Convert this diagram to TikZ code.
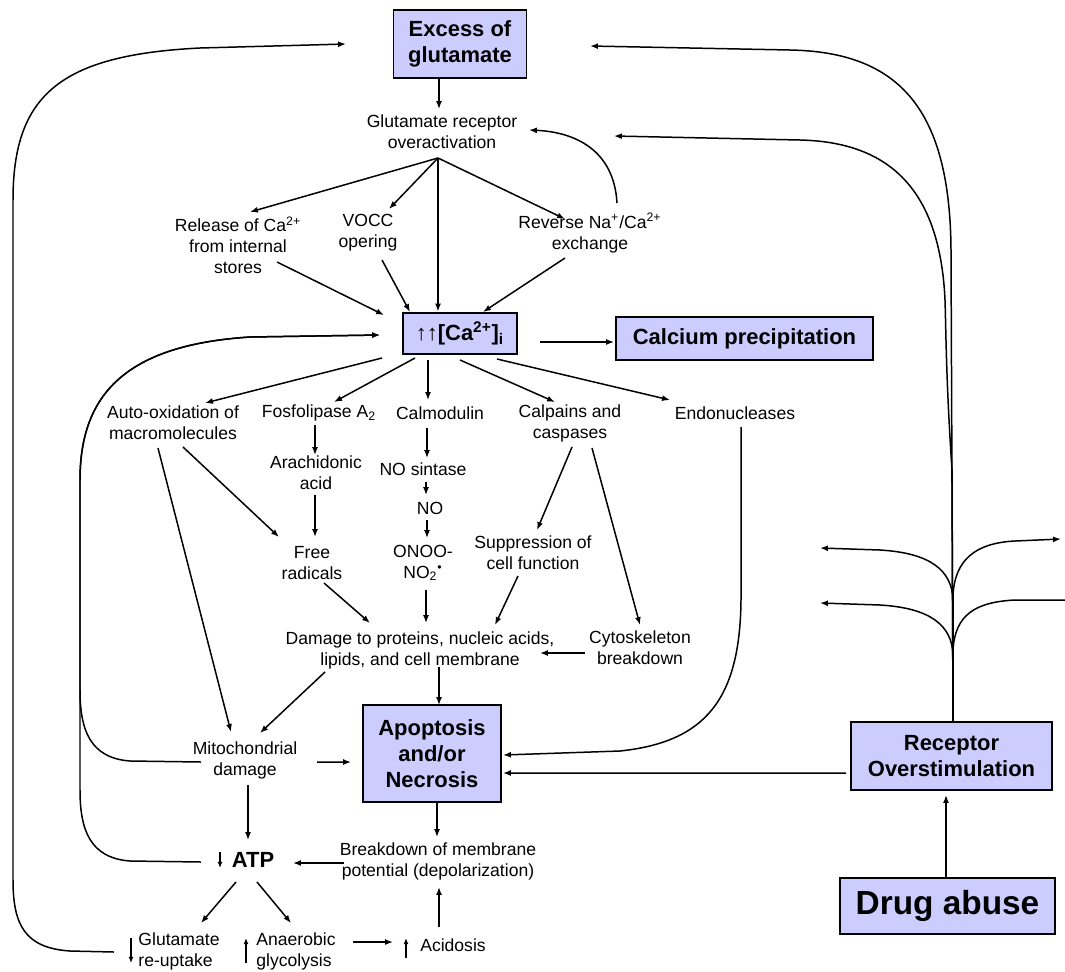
\documentclass[tikz,border=0pt]{standalone}
\usepackage{fontspec}
\setmainfont{Liberation Sans}
\usetikzlibrary{arrows.meta,calc}
\definecolor{boxfill}{HTML}{CCCCFF}
\tikzset{
  lbl/.style={font=\fontsize{10}{11.9}\selectfont, align=center, inner sep=0pt},
  lbll/.style={lbl, align=left},
  bx/.style={draw=black, line width=1.1pt, fill=boxfill, inner sep=0pt, align=center, font=\fontsize{12.5}{14.8}\selectfont\bfseries},
  conn/.style={line width=0.85pt, -{Latex[length=4.5pt,width=3.4pt]}},
  plainline/.style={line width=0.85pt},
  tick/.style={line width=0.8pt, -{Latex[length=3.5pt,width=2.8pt]}}
}
\begin{document}
\begin{tikzpicture}[x=0.02cm,y=-0.02cm]
\path[use as bounding box] (0,0) rectangle (1065,971);

% nodes
\node[bx, minimum width=2.66cm, minimum height=1.36cm] (exc) at (460,44) {Excess of\\glutamate};
\node[lbl] (gro) at (442,132) {Glutamate receptor\\overactivation};
\node[lbl] (rel) at (238,245) {Release of Ca\textsuperscript{2+}\\from internal\\stores};
\node[lbl] (vocc) at (368,233) {VOCC\\opering};
\node[lbl] (rev) at (590,233) {Reverse Na\textsuperscript{+}/Ca\textsuperscript{2+}\\exchange};
\node[bx, minimum width=2.28cm, minimum height=0.82cm] (ca) at (460,333.5) {↑↑[Ca\textsuperscript{2+}]\textsubscript{i}};
\node[bx, minimum width=5.14cm, minimum height=0.86cm] (calp) at (744.5,338.5) {Calcium precipitation};
\node[lbl] (auto) at (173,423) {Auto-oxidation of\\macromolecules};
\node[lbl] (fos) at (319,413) {Fosfolipase A\textsubscript{2}};
\node[lbl] (calm) at (440,413) {Calmodulin};
\node[lbl] (cal) at (570,423) {Calpains and\\caspases};
\node[lbl] (endo) at (735,413) {Endonucleases};
\node[lbl] (arach) at (316,473) {Arachidonic\\acid};
\node[lbl] (nos) at (423,469) {NO sintase};
\node[lbl] (no) at (430,508) {NO};
\node[lbl] (onoo) at (423,563) {ONOO-\\NO\textsubscript{2}\textsuperscript{•}};
\node[lbl] (free) at (312,563) {Free\\radicals};
\node[lbl] (supp) at (533,553) {Suppression of\\cell function};
\node[lbl] (dmg) at (420,650) {Damage to proteins, nucleic acids,\\lipids, and cell membrane};
\node[lbl] (cyto) at (640,648) {Cytoskeleton\\breakdown};
\node[lbl] (mito) at (245,760) {Mitochondrial\\damage};
\node[bx, minimum width=2.76cm, minimum height=1.94cm] (apo) at (432,753.5) {Apoptosis\\and/or\\Necrosis};
\node[lbl, font=\fontsize{12.5}{14}\selectfont\bfseries] (atp) at (253,860) {ATP};
\node[lbl] (brk) at (438,861) {Breakdown of membrane\\potential (depolarization)};
\node[lbll] (glu) at (179,951) {Glutamate\\re-uptake};
\node[lbll] (anae) at (296,951) {Anaerobic\\glycolysis};
\node[lbl] (acid) at (453,945) {Acidosis};
\node[bx, minimum width=4.02cm, minimum height=1.36cm] (rec) at (951.5,756) {Receptor\\Overstimulation};
\node[bx, minimum width=4.3cm, minimum height=1.12cm, font=\fontsize{19}{22}\selectfont\bfseries] (drug) at (947.5,906) {Drug abuse};

% free ends of the side branches
\coordinate (ul) at (820,548);
\coordinate (ll) at (820,603);
\coordinate (ur) at (1061,539);
\coordinate (lr) at (1065,600);

% small arrows inside labels
\draw[tick] ($(atp)+(-33,-8)$) -- ($(atp)+(-33,8)$);
\draw[tick] ($(glu)+(-48,-13)$) -- ($(glu)+(-48,12)$);
\draw[tick] ($(anae)+(-50,12)$) -- ($(anae)+(-50,-13)$);
\draw[tick] ($(acid)+(-47,13)$) -- ($(acid)+(-47,-7)$);

% connectors
\draw[conn] ($(exc)+(-21,34)$) -- ($(gro)+(-3,-23)$);
\draw[conn] ($(gro)+(-4,26)$) -- ($(rel)+(12,-33)$);
\draw[conn] ($(gro)+(-4,26)$) -- ($(vocc)+(21,-24)$);
\draw[conn] ($(gro)+(-4,26)$) -- ($(ca)+(-22,-22)$);
\draw[conn] ($(gro)+(-4,26)$) -- ($(rev)+(-25,-14)$);
\draw[conn] ($(rev)+(27,-30)$) .. controls (614,150) and (575,132) .. ($(gro)+(87,-2)$);
\draw[conn] ($(rel)+(39,17)$) -- ($(ca)+(-76,-18.5)$);
\draw[conn] ($(vocc)+(14,27)$) -- ($(ca)+(-50,-21.5)$);
\draw[conn] ($(rev)+(-25,25)$) -- ($(ca)+(23,-21.5)$);
\draw[conn] ($(ca)+(80,8.5)$) -- ($(calp)+(-130.5,3.5)$);
\draw[conn] ($(ca)+(-78,24.5)$) -- ($(auto)+(32,-20)$);
\draw[conn] ($(ca)+(-45,24.5)$) -- ($(fos)+(15,-11)$);
\draw[conn] ($(ca)+(-32,26.5)$) -- ($(calm)+(-12,-13)$);
\draw[conn] ($(ca)+(0,26.5)$) -- ($(cal)+(-15,-21)$);
\draw[conn] ($(ca)+(37,25.5)$) -- ($(endo)+(-65,-13)$);
\draw[conn] ($(fos)+(-4,12)$) -- ($(arach)+(-1,-18)$);
\draw[conn] ($(arach)+(-1,22)$) -- ($(free)+(3,-26)$);
\draw[conn] ($(calm)+(-13,15)$) -- ($(nos)+(4,-11)$);
\draw[conn] ($(nos)+(3,13)$) -- ($(no)+(-4,-13)$);
\draw[conn] ($(no)+(-3,12)$) -- ($(onoo)+(4,-25)$);
\draw[conn] ($(onoo)+(3,27)$) -- ($(dmg)+(6,-27)$);
\draw[conn] ($(auto)+(10,24)$) -- ($(free)+(-33,-26)$);
\draw[conn] ($(auto)+(-15,25)$) -- ($(mito)+(-14,-28)$);
\draw[conn] ($(free)+(12,20)$) -- ($(dmg)+(-50,-27)$);
\draw[conn] ($(cal)+(2,24)$) -- ($(supp)+(4,-23)$);
\draw[conn] ($(cal)+(22,25)$) -- ($(cyto)+(0,-23)$);
\draw[conn] ($(supp)+(-15,23)$) -- ($(dmg)+(75,-25)$);
\draw[conn] ($(cyto)+(-55,5)$) -- ($(dmg)+(120,3)$);
\draw[conn] ($(dmg)+(19,17)$) -- ($(apo)+(7,-48.5)$);
\draw[conn] ($(dmg)+(-95,22)$) -- ($(mito)+(15,-27)$);
\draw[conn] ($(endo)+(6,14)$) -- (741,600) .. controls (740,700) and (705,742) .. (620,751) -- ($(apo)+(71,1.5)$);
\draw[conn] ($(mito)+(72,2)$) -- ($(apo)+(-81,8.5)$);
\draw[conn] ($(mito)+(3,25)$) -- ($(atp)+(-5,-20)$);
\draw[conn] ($(apo)+(5,48.5)$) -- ($(brk)+(-1,-24)$);
\draw[conn] ($(brk)+(-94,2)$) -- ($(atp)+(40,3)$);
\draw[conn] ($(acid)+(-14,-18)$) -- ($(brk)+(1,26)$);
\draw[conn] ($(atp)+(-17,22)$) -- ($(glu)+(22,-28)$);
\draw[conn] ($(atp)+(4,22)$) -- ($(anae)+(-5,-28)$);
\draw[conn] ($(anae)+(57,-9)$) -- ($(acid)+(-60,-3)$);

% feedback loops on the left
\draw[conn] ($(mito)+(-44,2)$) -- (130,761) .. controls (90,758) and (80,730) .. (80,690) -- (80,480) .. controls (80,395) and (125,345) .. (250,337) -- ($(ca)+(-80,1.5)$);
\draw[conn] ($(atp)+(-52,2)$) -- (130,861) .. controls (90,858) and (80,830) .. (80,790) -- (80,480) .. controls (80,395) and (125,345) .. (250,337) -- ($(ca)+(-80,1.5)$);
\draw[conn] ($(glu)+(-65,1)$) -- (70,951) .. controls (25,948) and (13,925) .. (13,880) -- (13,200) .. controls (13,95) and (60,55) .. (200,48) -- ($(exc)+(-114,0)$);

% receptor overstimulation
\draw[conn] ($(drug)+(-1.5,-28)$) -- ($(rec)+(-5.5,39)$);
\draw[conn] ($(rec)+(-105.5,17)$) -- ($(apo)+(71,19.5)$);
\draw[conn] ($(rec)+(1.5,-34)$) -- (951,250) .. controls (950,110) and (900,52) .. (790,50) -- ($(exc)+(130,2)$);
\draw[conn] ($(rec)+(1.5,-34)$) -- (952,470) .. controls (946,380) and (946,330) .. (945,300) .. controls (940,190) and (890,142) .. (800,140) -- ($(gro)+(172,4)$);
\draw[conn] ($(rec)+(1.5,-34)$) -- (953,600) .. controls (952,570) and (930,553) .. (880,550) -- (ul);
\draw[conn] ($(rec)+(1.5,-34)$) -- (953,655) .. controls (952,625) and (930,608) .. (880,605) -- (ll);
\draw[conn] ($(rec)+(1.5,-34)$) -- (953,595) .. controls (955,560) and (975,543) .. (1015,541) -- (ur);
\draw[plainline] ($(rec)+(1.5,-34)$) -- (953,650) .. controls (955,615) and (975,602) .. (1015,600) -- (lr);
\end{tikzpicture}
\end{document}
